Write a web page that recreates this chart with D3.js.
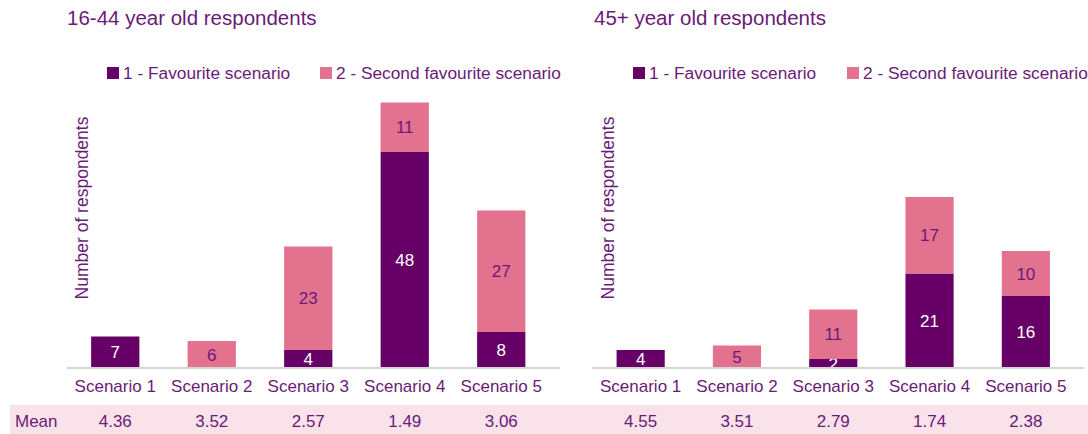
<!DOCTYPE html>
<html><head><meta charset="utf-8">
<script src="https://cdn.jsdelivr.net/npm/d3@7"></script>
<style>body{margin:0;background:#fff}svg{display:block}text{font-family:"Liberation Sans",Arial,sans-serif}</style>
</head><body><svg id="c" width="1088" height="434"></svg>
<script>
const categories = ["Scenario 1","Scenario 2","Scenario 3","Scenario 4","Scenario 5"];
const seriesNames = ["1 - Favourite scenario","2 - Second favourite scenario"];
const young_fav = [7,0,4,48,8];
const young_second = [0,6,23,11,27];
const young_mean = ["4.36","3.52","2.57","1.49","3.06"];
const old_fav = [4,0,2,21,16];
const old_second = [0,5,11,17,10];
const old_mean = ["4.55","3.51","2.79","1.74","2.38"];
const titles = ["16-44 year old respondents","45+ year old respondents"];
const yLabel = "Number of respondents";
const meanLabel = "Mean";

const C_DARK="#660066", C_PINK="#E2728E", C_TEXT="#6B1A78", C_AXIS="#D4D4D4", C_BAND="#F9E2E9";
const FS=17;
const svg=d3.select("#c");

// mean band
svg.append("rect").attr("x",10).attr("y",405).attr("width",1078).attr("height",29).attr("fill",C_BAND);
svg.append("text").attr("x",15).attr("y",427).attr("font-size",FS).attr("fill",C_TEXT).text(meanLabel);

const panels=[
 {title:titles[0],fav:young_fav,sec:young_second,mean:young_mean,x0:67,x1:549.5,tx:67,lx:[107,320],ylx:88},
 {title:titles[1],fav:old_fav,sec:old_second,mean:old_mean,x0:592.5,x1:1074,tx:594,lx:[633,847],ylx:614}
];
const y=d3.scaleLinear().domain([0,60]).range([368,98]);

panels.forEach(p=>{
  const g=svg.append("g");
  g.append("text").attr("x",p.tx).attr("y",25).attr("font-size",20.5).attr("fill",C_TEXT).text(p.title);
  // legend
  [C_DARK,C_PINK].forEach((col,i)=>{
    g.append("rect").attr("x",p.lx[i]).attr("y",67).attr("width",12).attr("height",12).attr("fill",col);
    g.append("text").attr("x",p.lx[i]+16).attr("y",79).attr("font-size",17.3).attr("fill",C_TEXT).text(seriesNames[i]);
  });
  // y label
  g.append("text").attr("transform",`translate(${p.ylx},208) rotate(-90)`).attr("text-anchor","middle")
    .attr("font-size",17.5).attr("fill",C_TEXT).text(yLabel);
  const x=d3.scaleBand().domain(categories).range([p.x0,p.x1]).paddingInner(0.5).paddingOuter(0.25);
  const data=categories.map((c,i)=>({cat:c,fav:p.fav[i],sec:p.sec[i]}));
  const stack=d3.stack().keys(["fav","sec"])(data);
  stack.forEach((layer,li)=>{
    layer.forEach((d,i)=>{
      const v=d[1]-d[0];
      if(v<=0) return;
      g.append("rect").attr("x",x(categories[i])).attr("width",x.bandwidth())
        .attr("y",y(d[1])).attr("height",y(d[0])-y(d[1])).attr("fill",li===0?C_DARK:C_PINK);
      g.append("text").attr("x",x(categories[i])+x.bandwidth()/2).attr("y",(y(d[0])+y(d[1]))/2)
        .attr("dy","0.36em").attr("text-anchor","middle").attr("font-size",FS)
        .attr("fill",li===0?"#ffffff":C_TEXT).text(v);
    });
  });
  // axis
  const ax=g.append("g").attr("transform","translate(0,368)").call(d3.axisBottom(x).tickSize(0).tickPadding(0));
  ax.select(".domain").attr("stroke",C_AXIS).attr("stroke-width",2).attr("d",`M${p.x0},0H${p.x1+10}`);
  ax.selectAll("text").attr("font-size",FS).attr("fill",C_TEXT).attr("y",24).attr("dy",0)
    .style("font-family",'"Liberation Sans",Arial,sans-serif');
  // means
  p.mean.forEach((m,i)=>{
    g.append("text").attr("x",x(categories[i])+x.bandwidth()/2).attr("y",427).attr("text-anchor","middle")
      .attr("font-size",FS).attr("fill",C_TEXT).text(m);
  });
});
</script></body></html>
